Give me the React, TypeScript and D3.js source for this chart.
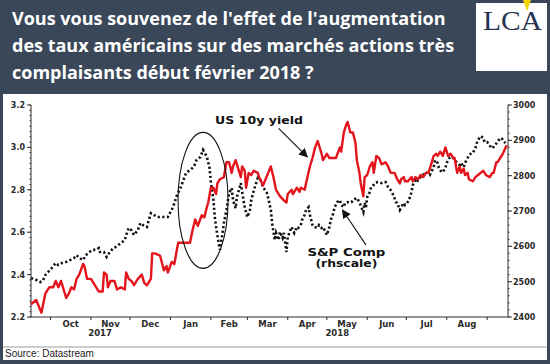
import * as d3 from "d3";

// US 10y yield (lhs)
const yieldDates = [
  "2017-09-16","2017-09-20","2017-09-24","2017-09-27","2017-09-30","2017-10-03","2017-10-05","2017-10-07","2017-10-09","2017-10-10",
  "2017-10-13","2017-10-15","2017-10-17","2017-10-19","2017-10-21","2017-10-23","2017-10-26","2017-10-27","2017-10-29","2017-11-01",
  "2017-11-04","2017-11-07","2017-11-10","2017-11-11","2017-11-13","2017-11-14","2017-11-16","2017-11-19","2017-11-21","2017-11-24",
  "2017-11-27","2017-11-28","2017-11-30","2017-12-02","2017-12-04","2017-12-07","2017-12-10","2017-12-12","2017-12-14","2017-12-17",
  "2017-12-18","2017-12-20","2017-12-24","2017-12-27","2017-12-29","2017-12-30","2018-01-02","2018-01-04","2018-01-06","2018-01-07",
  "2018-01-10","2018-01-13","2018-01-16","2018-01-18","2018-01-20","2018-01-22","2018-01-25","2018-01-27","2018-01-29","2018-01-30",
  "2018-02-01","2018-02-03","2018-02-05","2018-02-06","2018-02-08","2018-02-11","2018-02-13","2018-02-15","2018-02-17","2018-02-18",
  "2018-02-20","2018-02-22","2018-02-24","2018-02-25","2018-02-27","2018-02-28","2018-03-02","2018-03-04","2018-03-06","2018-03-09",
  "2018-03-10","2018-03-13","2018-03-15","2018-03-17","2018-03-19","2018-03-21","2018-03-23","2018-03-26","2018-03-29","2018-03-31",
  "2018-04-01","2018-04-04","2018-04-05","2018-04-08","2018-04-10","2018-04-11","2018-04-14","2018-04-15","2018-04-18","2018-04-20",
  "2018-04-22","2018-04-24","2018-04-27","2018-04-28","2018-05-01","2018-05-03","2018-05-05","2018-05-08","2018-05-11","2018-05-12",
  "2018-05-14","2018-05-16","2018-05-17","2018-05-19","2018-05-21","2018-05-23","2018-05-24","2018-05-26","2018-05-27","2018-05-29",
  "2018-05-30","2018-06-01","2018-06-03","2018-06-05","2018-06-06","2018-06-08","2018-06-10","2018-06-12","2018-06-15","2018-06-17",
  "2018-06-19","2018-06-22","2018-06-24","2018-06-26","2018-06-27","2018-06-29","2018-06-30","2018-07-02","2018-07-05","2018-07-06",
  "2018-07-08","2018-07-10","2018-07-12","2018-07-14","2018-07-16","2018-07-18","2018-07-20","2018-07-22","2018-07-24","2018-07-25",
  "2018-07-27","2018-07-29","2018-07-31","2018-08-02","2018-08-04","2018-08-06","2018-08-07","2018-08-09","2018-08-11","2018-08-12",
  "2018-08-14","2018-08-15","2018-08-17","2018-08-18","2018-08-21","2018-08-23","2018-08-25","2018-08-27","2018-08-29","2018-08-31",
  "2018-09-03","2018-09-05","2018-09-06","2018-09-08","2018-09-09","2018-09-11","2018-09-13","2018-09-16"
];
const yieldValues = [
  2.26,2.28,2.22,2.31,2.34,2.34,2.37,2.34,2.37,2.35,
  2.29,2.31,2.34,2.33,2.38,2.40,2.45,2.44,2.38,2.38,
  2.35,2.32,2.32,2.41,2.40,2.34,2.37,2.37,2.33,2.34,
  2.33,2.41,2.38,2.37,2.35,2.38,2.40,2.36,2.35,2.38,
  2.50,2.50,2.49,2.42,2.44,2.41,2.46,2.45,2.52,2.55,
  2.55,2.55,2.55,2.61,2.66,2.63,2.68,2.67,2.72,2.74,
  2.81,2.81,2.78,2.83,2.85,2.86,2.93,2.93,2.88,2.91,
  2.94,2.90,2.86,2.91,2.89,2.81,2.88,2.87,2.89,2.88,
  2.86,2.82,2.85,2.88,2.91,2.86,2.80,2.77,2.75,2.74,
  2.78,2.80,2.78,2.81,2.79,2.81,2.80,2.83,2.91,2.95,
  3.00,3.03,2.97,2.94,2.97,2.95,2.95,2.95,3.00,2.98,
  3.07,3.11,3.12,3.07,3.07,3.02,2.94,2.88,2.83,2.77,
  2.86,2.87,2.91,2.93,2.88,2.96,2.95,2.92,2.93,2.91,
  2.88,2.88,2.85,2.83,2.85,2.86,2.84,2.84,2.86,2.84,
  2.86,2.85,2.87,2.86,2.88,2.88,2.92,2.96,2.97,2.96,
  2.98,2.96,3.00,2.96,2.97,2.95,2.95,2.88,2.91,2.88,
  2.90,2.87,2.88,2.85,2.84,2.86,2.87,2.88,2.89,2.87,
  2.86,2.88,2.88,2.93,2.93,2.95,2.97,3.01
];

// S&P Composite (rhs)
const spxDates = [
  "2017-09-16","2017-09-20","2017-09-23","2017-09-25","2017-09-27","2017-09-29","2017-10-02","2017-10-05","2017-10-07","2017-10-10",
  "2017-10-13","2017-10-16","2017-10-19","2017-10-21","2017-10-23","2017-10-26","2017-10-28","2017-10-30","2017-11-02","2017-11-05",
  "2017-11-07","2017-11-08","2017-11-11","2017-11-13","2017-11-15","2017-11-18","2017-11-20","2017-11-22","2017-11-24","2017-11-27",
  "2017-11-28","2017-11-30","2017-12-02","2017-12-04","2017-12-07","2017-12-09","2017-12-11","2017-12-14","2017-12-15","2017-12-17",
  "2017-12-22","2017-12-27","2017-12-30","2018-01-03","2018-01-06","2018-01-09","2018-01-11","2018-01-13","2018-01-16","2018-01-19",
  "2018-01-21","2018-01-24","2018-01-26","2018-01-29","2018-01-31","2018-02-01","2018-02-03","2018-02-04","2018-02-05","2018-02-07",
  "2018-02-08","2018-02-10","2018-02-11","2018-02-13","2018-02-15","2018-02-17","2018-02-18","2018-02-20","2018-02-21","2018-02-23",
  "2018-02-24","2018-02-26","2018-02-27","2018-03-01","2018-03-03","2018-03-04","2018-03-06","2018-03-09","2018-03-11","2018-03-13",
  "2018-03-16","2018-03-17","2018-03-19","2018-03-20","2018-03-22","2018-03-23","2018-03-25","2018-03-26","2018-03-28","2018-03-29",
  "2018-03-31","2018-04-01","2018-04-03","2018-04-04","2018-04-06","2018-04-08","2018-04-09","2018-04-11","2018-04-12","2018-04-14",
  "2018-04-15","2018-04-17","2018-04-18","2018-04-20","2018-04-21","2018-04-24","2018-04-25","2018-04-27","2018-04-28","2018-04-30",
  "2018-05-01","2018-05-03","2018-05-04","2018-05-06","2018-05-07","2018-05-09","2018-05-11","2018-05-12","2018-05-14","2018-05-15",
  "2018-05-17","2018-05-18","2018-05-20","2018-05-21","2018-05-24","2018-05-26","2018-05-29","2018-05-30","2018-05-31","2018-06-01",
  "2018-06-03","2018-06-04","2018-06-06","2018-06-07","2018-06-09","2018-06-10","2018-06-12","2018-06-15","2018-06-16","2018-06-17",
  "2018-06-19","2018-06-21","2018-06-23","2018-06-24","2018-06-26","2018-06-27","2018-06-29","2018-06-30","2018-07-02","2018-07-03",
  "2018-07-05","2018-07-06","2018-07-08","2018-07-09","2018-07-11","2018-07-12","2018-07-14","2018-07-15","2018-07-17","2018-07-19",
  "2018-07-20","2018-07-22","2018-07-23","2018-07-25","2018-07-26","2018-07-28","2018-07-29","2018-07-31","2018-08-01","2018-08-03",
  "2018-08-04","2018-08-06","2018-08-07","2018-08-09","2018-08-11","2018-08-12","2018-08-14","2018-08-15","2018-08-17","2018-08-18",
  "2018-08-20","2018-08-21","2018-08-23","2018-08-24","2018-08-26","2018-08-27","2018-08-29","2018-08-30","2018-09-01","2018-09-03",
  "2018-09-04","2018-09-06","2018-09-07","2018-09-09","2018-09-10","2018-09-12","2018-09-13","2018-09-15"
];
const spxValues = [
  2510,2505,2499,2502,2519,2527,2539,2553,2547,2553,
  2556,2561,2567,2575,2567,2561,2575,2581,2590,2590,
  2595,2584,2584,2570,2581,2595,2598,2604,2609,2618,
  2632,2652,2646,2632,2646,2666,2660,2655,2669,2694,
  2683,2683,2683,2711,2745,2768,2788,2808,2816,2825,
  2844,2853,2873,2853,2822,2782,2731,2683,2655,2609,
  2590,2638,2666,2703,2751,2765,2731,2708,2740,2765,
  2779,2731,2711,2683,2703,2731,2759,2793,2788,2768,
  2751,2737,2703,2666,2618,2638,2618,2641,2624,2638,
  2584,2626,2646,2655,2638,2655,2652,2660,2675,2689,
  2703,2711,2689,2660,2655,2652,2660,2652,2655,2641,
  2632,2655,2675,2694,2711,2725,2731,2717,2711,2723,
  2725,2723,2725,2731,2737,2725,2697,2723,2711,2740,
  2754,2768,2774,2779,2782,2782,2779,2782,2774,2768,
  2759,2745,2725,2723,2703,2711,2723,2717,2725,2731,
  2754,2774,2788,2782,2793,2796,2802,2810,2808,2802,
  2810,2824,2844,2836,2822,2810,2810,2822,2836,2850,
  2853,2850,2844,2836,2830,2836,2824,2836,2850,2858,
  2864,2864,2878,2892,2907,2912,2907,2895,2895,2887,
  2878,2881,2887,2895,2901,2907,2901,2892
];

const leftTicks = [2.2, 2.4, 2.6, 2.8, 3.0, 3.2];
const rightTicks = [2400, 2500, 2600, 2700, 2800, 2900, 3000];
const monthLabels = ["Oct", "Nov", "Dec", "Jan", "Feb", "Mar", "Apr", "May", "Jun", "Jul", "Aug"];
const yearLabels = [["2017-11-08", "2017"], ["2018-05-09", "2018"]];
const titleLines = [
  "Vous vous souvenez de l'effet de l'augmentation",
  "des taux américains sur des marchés actions très",
  "complaisants début février 2018 ?"
];

const parse = d3.timeParse("%Y-%m-%d");
const W = 550, H = 364;
const left = 31, right = 508, top = 105, bottom = 317;
const axisFont = "'DejaVu Sans', Verdana, sans-serif";
const ink = "#2a2a2a";

export default function App() {
  const x = d3.scaleTime().domain([parse("2017-09-16"), parse("2018-09-17")]).range([left, right]);
  const yL = d3.scaleLinear().domain([2.2, 3.2]).range([bottom, top]);
  const yR = d3.scaleLinear().domain([2400, 3000]).range([bottom, top]);

  const yieldLine = d3.line<number>()
    .x((_, i) => x(parse(yieldDates[i])))
    .y(d => yL(d));
  const spxLine = d3.line<number>()
    .x((_, i) => x(parse(spxDates[i])))
    .y(d => yR(d));

  const months = d3.timeMonth.range(parse("2017-10-01"), parse("2018-09-02"));
  const minorL = d3.range(2.2, 3.2001, 0.025);
  const minorR = d3.range(2400, 3001, 20);

  // annotation anchors, in data terms
  const a1from = [x(parse("2018-03-25")), yL(3.09)];
  const a1to = [x(parse("2018-04-16")), yL(2.955)];
  const a2from = [x(parse("2018-05-31")), yR(2604)];
  const a2to = [x(parse("2018-05-13")), yR(2703)];
  const spxLabelX = x(parse("2018-05-16"));

  return (
    <svg width={W} height={H} style={{ position: "absolute", left: 0, top: 0 }}>
      <defs>
        <marker id="arr" viewBox="0 0 10 10" refX="9" refY="5" markerWidth="9" markerHeight="9" orient="auto" markerUnits="userSpaceOnUse">
          <path d="M0,0 L10,5 L0,10 z" fill="#111" />
        </marker>
      </defs>
      <rect width={W} height={H} fill="#3a4759" />
      {titleLines.map((t, i) => (
        <text key={i} x={12} y={25 + i * 27} fill="#fff" fontFamily="'Open Sans', sans-serif"
          fontWeight="700" fontSize={18}>{t}</text>
      ))}
      {/* logo */}
      <rect x={476} y={3} width={71} height={68} fill="#fff" />
      <text x={483} y={30} fontFamily="'Liberation Serif', serif" fontSize={28} fill="#26334f"
        textLength={59} lengthAdjust="spacingAndGlyphs">LCA</text>
      <path d="M523,0 L531,0 L527,11 z" fill="#f2d600" />

      {/* chart panel */}
      <rect x={3} y={94} width={544} height={266} fill="#fff" />
      <line x1={3} x2={547} y1={347} y2={347} stroke="#9a9a9a" />
      <text x={5} y={357} fontFamily="'Liberation Sans', Arial, sans-serif" fontSize={10} fill="#222">Source: Datastream</text>

      {/* left axis */}
      <line x1={left} x2={left} y1={top} y2={bottom} stroke={ink} />
      {minorL.map((v, i) => (
        <line key={i} x1={left - 1.5} x2={left} y1={yL(v)} y2={yL(v)} stroke={ink} />
      ))}
      {leftTicks.map(v => (
        <g key={v}>
          <line x1={left - 4} x2={left} y1={yL(v)} y2={yL(v)} stroke={ink} />
          <text x={25} y={yL(v) + 3} textAnchor="end" fontFamily={axisFont} fontWeight="700" fontSize={8} fill={ink}>{v.toFixed(1)}</text>
        </g>
      ))}

      {/* right axis */}
      <line x1={right} x2={right} y1={top} y2={bottom} stroke={ink} />
      {minorR.map((v, i) => (
        <line key={i} x1={right} x2={right + 1.5} y1={yR(v)} y2={yR(v)} stroke={ink} />
      ))}
      {rightTicks.map(v => (
        <g key={v}>
          <line x1={right} x2={right + 4} y1={yR(v)} y2={yR(v)} stroke={ink} />
          <text x={513} y={yR(v) + 3} fontFamily={axisFont} fontWeight="700" fontSize={8} fill={ink}>{v}</text>
        </g>
      ))}

      {/* x axis */}
      <line x1={left} x2={right} y1={bottom} y2={bottom} stroke={ink} />
      {months.map((m, i) => (
        <line key={i} x1={x(m)} x2={x(m)} y1={bottom} y2={bottom + 3} stroke={ink} />
      ))}
      {monthLabels.map((lab, i) => (
        <text key={lab} x={(x(months[i]) + x(months[i + 1])) / 2} y={327} textAnchor="middle"
          fontFamily={axisFont} fontWeight="700" fontSize={8.5} fill={ink}>{lab}</text>
      ))}
      {yearLabels.map(([d, lab]) => (
        <text key={lab} x={x(parse(d))} y={336} textAnchor="middle"
          fontFamily={axisFont} fontWeight="700" fontSize={8.5} fill={ink}>{lab}</text>
      ))}

      {/* series */}
      <path d={spxLine(spxValues) || ""} fill="none" stroke="#111" strokeWidth={2.6} strokeDasharray="2.2 2.4" />
      <path d={yieldLine(yieldValues) || ""} fill="none" stroke="#e3141b" strokeWidth={2.4} strokeLinejoin="round" />

      {/* annotations */}
      <ellipse cx={x(parse("2018-01-26"))} cy={yL(2.75)} rx={25} ry={68} fill="none" stroke="#111" strokeWidth={1.1} />
      <text x={x(parse("2018-03-10"))} y={yL(3.11)} textAnchor="middle" fontFamily={axisFont} fontWeight="700" fontSize={10.5} fill="#111"
        textLength={88} lengthAdjust="spacingAndGlyphs">US 10y yield</text>
      <line x1={a1from[0]} y1={a1from[1]} x2={a1to[0]} y2={a1to[1]} stroke="#111" strokeWidth={1.1} markerEnd="url(#arr)" />
      <text x={spxLabelX} y={yR(2572)} textAnchor="middle" fontFamily={axisFont} fontWeight="700" fontSize={10} fill="#111"
        textLength={78} lengthAdjust="spacingAndGlyphs">S&amp;P Comp</text>
      <text x={spxLabelX} y={yR(2572) + 10.5} textAnchor="middle" fontFamily={axisFont} fontWeight="700" fontSize={10} fill="#111"
        textLength={62} lengthAdjust="spacingAndGlyphs">(rhscale)</text>
      <line x1={a2from[0]} y1={a2from[1]} x2={a2to[0]} y2={a2to[1]} stroke="#111" strokeWidth={1.1} markerEnd="url(#arr)" />
    </svg>
  );
}
